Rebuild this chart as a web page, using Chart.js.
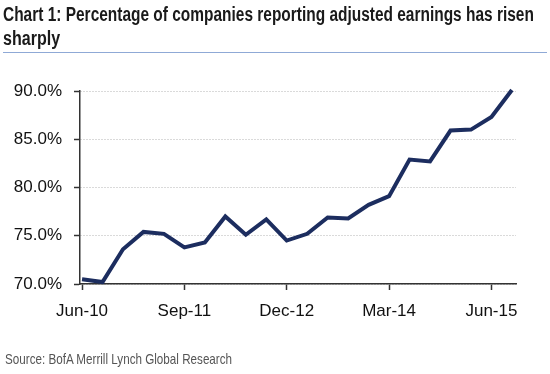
<!DOCTYPE html>
<html>
<head>
<meta charset="utf-8">
<script src="https://cdn.jsdelivr.net/npm/chart.js@4"></script>
<style>
  html, body { margin: 0; padding: 0; background: #fff; }
  #wrap { position: relative; width: 550px; height: 374px; overflow: hidden; }
  #title {
    position: absolute; left: 3px; top: 2px; width: 544px; height: 50px;
    font-family: "Liberation Sans", Arial, sans-serif;
    font-weight: bold; font-size: 20px; line-height: 24px; color: #1a1a1a;
    border-bottom: 1.5px solid #8fa9d6;
  }
  #title span, #source span { display: inline-block; white-space: nowrap; transform-origin: 0 0; }
  #source {
    position: absolute; left: 5px; top: 350px;
    font-family: "Liberation Sans", Arial, sans-serif;
    font-size: 15px; color: #555;
  }
  canvas { position: absolute; left: 0; top: 0; }
</style>
</head>
<body>
<div id="wrap">
  <canvas id="chart" width="550" height="374"></canvas>
  <div id="title"><span data-w="531">Chart 1: Percentage of companies reporting adjusted earnings has risen</span><br><span data-w="57">sharply</span></div>
  <div id="source"><span data-w="227">Source: BofA Merrill Lynch Global Research</span></div>
</div>
<script>
// quarterly, Jun-10 .. Sep-15
const quarters = ['Jun-10', 'Sep-10', 'Dec-10', 'Mar-11', 'Jun-11', 'Sep-11', 'Dec-11', 'Mar-12',
  'Jun-12', 'Sep-12', 'Dec-12', 'Mar-13', 'Jun-13', 'Sep-13', 'Dec-13', 'Mar-14',
  'Jun-14', 'Sep-14', 'Dec-14', 'Mar-15', 'Jun-15', 'Sep-15'];
const adjustedPct = [70.5, 70.2, 73.6, 75.4, 75.2, 73.8, 74.3, 77.0, 75.1, 76.7, 74.5,
  75.2, 76.9, 76.8, 78.2, 79.1, 82.9, 82.7, 85.9, 86.0, 87.3, 90.1];
const tickQuarters = [0, 5, 10, 15, 20];
const yTicks = [70, 75, 80, 85, 90];

// squeeze text to look like the condensed font of the original
document.querySelectorAll('[data-w]').forEach(el => {
  el.style.transform = 'scaleX(' + (el.dataset.w / el.offsetWidth) + ')';
});

const axisFont = { family: "'Liberation Sans', Arial, sans-serif", size: 17 };

const ctx = document.getElementById('chart').getContext('2d');
new Chart(ctx, {
  type: 'line',
  data: {
    datasets: [{
      data: adjustedPct.map((v, i) => ({ x: i, y: v })),
      borderColor: '#1c2d5f',
      borderWidth: 4,
      pointRadius: 0,
      tension: 0,
      fill: false,
      clip: false
    }]
  },
  options: {
    responsive: false,
    animation: false,
    layout: { padding: { top: 91, right: 34, left: 0, bottom: 0 } },
    plugins: { legend: { display: false }, tooltip: { enabled: false } },
    scales: {
      x: {
        type: 'linear',
        min: -0.1,
        max: 21.2,
        afterBuildTicks: s => { s.ticks = tickQuarters.map(v => ({ value: v })); },
        afterFit: s => { s.height = 90; },
        ticks: {
          callback: v => quarters[v],
          font: axisFont, color: '#111', padding: 11, maxRotation: 0, autoSkip: false
        },
        grid: { drawOnChartArea: false, drawTicks: true, tickLength: 6, tickColor: '#333', tickWidth: 1.5 },
        border: { color: '#333', width: 1.5 }
      },
      y: {
        min: 70,
        max: 90,
        afterBuildTicks: s => { s.ticks = yTicks.map(v => ({ value: v })); },
        afterFit: s => { s.width = 80; },
        ticks: {
          callback: v => v.toFixed(1) + '%',
          font: axisFont, color: '#111', padding: 12
        },
        grid: { color: '#b5b5b5', lineWidth: 1, tickLength: 6, tickColor: '#333', tickWidth: 1.5 },
        border: { color: '#333', width: 1.5, dash: [1, 2] }
      }
    }
  }
});
</script>
</body>
</html>
